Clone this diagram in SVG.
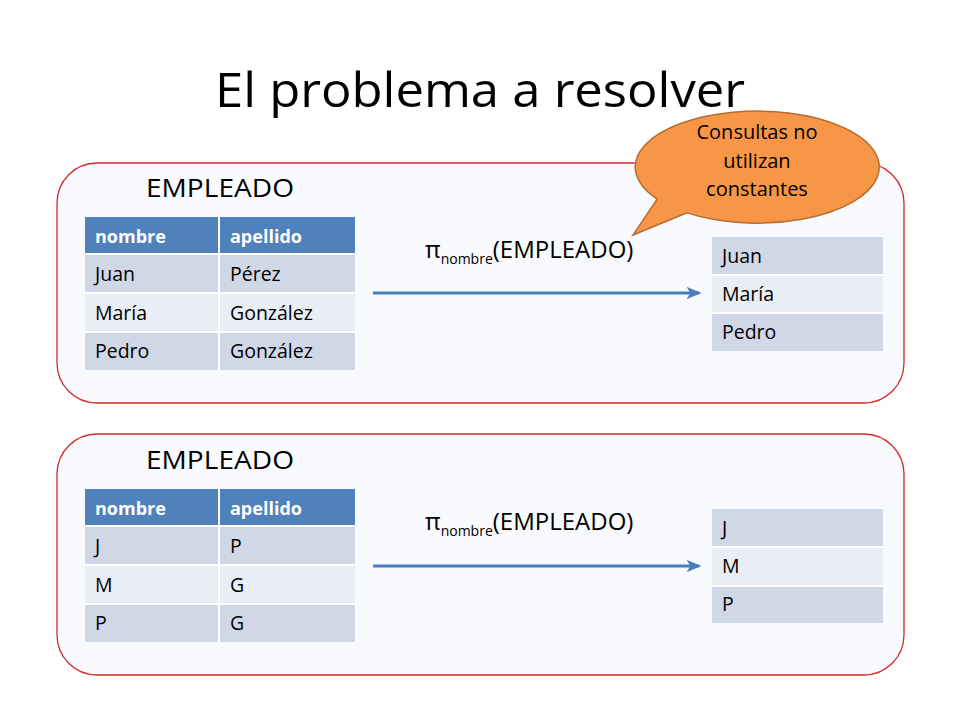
<svg xmlns="http://www.w3.org/2000/svg" width="960" height="720" viewBox="0 0 960 720">
<defs>
<style>
.t{font-family:"Open Sans","Noto Sans","Liberation Sans",sans-serif;fill:#000}
.panel{fill:#f8fafd;stroke:#d42a2a;stroke-width:1.3}
.hd{fill:#4f81bd}
.r1{fill:#d0d8e8}
.r2{fill:#e9edf4}
.sep{stroke:#ffffff;stroke-width:2}
.ht{font-family:"Open Sans","Noto Sans","Liberation Sans",sans-serif;font-weight:bold;font-size:18px;fill:#fff}
.ct{font-family:"Open Sans","Noto Sans","Liberation Sans",sans-serif;font-size:19.5px;fill:#000}
.arrow{stroke:#4a7ebb;stroke-width:3;fill:none}
</style>
<marker id="ah" viewBox="0 0 12 10" refX="10" refY="5" markerWidth="5" markerHeight="4.4" orient="auto" markerUnits="strokeWidth">
<path d="M0,0 L12,5 L0,10 L3,5 Z" fill="#4a7ebb"/>
</marker>
</defs>
<rect width="960" height="720" fill="#ffffff"/>

<g id="title">
<text class="t" x="480" y="107" font-size="48" text-anchor="middle" textLength="530" lengthAdjust="spacingAndGlyphs">El problema a resolver</text>
</g>

<g id="panel-top">
<rect class="panel" x="57" y="163" width="847" height="240" rx="40" ry="40"/>
<text class="t" x="146" y="197" font-size="25" textLength="148" lengthAdjust="spacingAndGlyphs">EMPLEADO</text>
</g>

<g id="table-top">
<rect class="hd" x="85" y="217" width="270" height="37"/>
<rect class="r1" x="85" y="254" width="270" height="39"/>
<rect class="r2" x="85" y="293" width="270" height="39"/>
<rect class="r1" x="85" y="332" width="270" height="38"/>
<line class="sep" x1="85" y1="254" x2="355" y2="254"/>
<line class="sep" x1="85" y1="293" x2="355" y2="293"/>
<line class="sep" x1="85" y1="332" x2="355" y2="332"/>
<line class="sep" x1="219" y1="217" x2="219" y2="370" stroke-width="1.5"/>
<text class="ht" x="95" y="243">nombre</text>
<text class="ht" x="230" y="243">apellido</text>
<text class="ct" x="95" y="281">Juan</text>
<text class="ct" x="230" y="281">Pérez</text>
<text class="ct" x="95" y="320">María</text>
<text class="ct" x="230" y="320">González</text>
<text class="ct" x="95" y="358">Pedro</text>
<text class="ct" x="230" y="358">González</text>
</g>

<g id="result-top">
<rect class="r1" x="712" y="237" width="171" height="38"/>
<rect class="r2" x="712" y="275" width="171" height="38"/>
<rect class="r1" x="712" y="313" width="171" height="38"/>
<line class="sep" x1="712" y1="275" x2="883" y2="275"/>
<line class="sep" x1="712" y1="313" x2="883" y2="313"/>
<text class="ct" x="722" y="263">Juan</text>
<text class="ct" x="722" y="301">María</text>
<text class="ct" x="722" y="339">Pedro</text>
</g>

<g id="panel-bottom">
<rect class="panel" x="57" y="434" width="847" height="241" rx="40" ry="40"/>
<text class="t" x="146" y="469" font-size="25" textLength="148" lengthAdjust="spacingAndGlyphs">EMPLEADO</text>
</g>

<g id="table-bottom">
<rect class="hd" x="85" y="489" width="270" height="37"/>
<rect class="r1" x="85" y="526" width="270" height="39"/>
<rect class="r2" x="85" y="565" width="270" height="39"/>
<rect class="r1" x="85" y="604" width="270" height="38"/>
<line class="sep" x1="85" y1="526" x2="355" y2="526"/>
<line class="sep" x1="85" y1="565" x2="355" y2="565"/>
<line class="sep" x1="85" y1="604" x2="355" y2="604"/>
<line class="sep" x1="219" y1="489" x2="219" y2="642" stroke-width="1.5"/>
<text class="ht" x="95" y="515">nombre</text>
<text class="ht" x="230" y="515">apellido</text>
<text class="ct" x="95" y="553">J</text>
<text class="ct" x="230" y="553">P</text>
<text class="ct" x="95" y="592">M</text>
<text class="ct" x="230" y="592">G</text>
<text class="ct" x="95" y="630">P</text>
<text class="ct" x="230" y="630">G</text>
</g>

<g id="result-bottom">
<rect class="r1" x="712" y="509" width="171" height="38"/>
<rect class="r2" x="712" y="547" width="171" height="39"/>
<rect class="r1" x="712" y="586" width="171" height="37"/>
<line class="sep" x1="712" y1="547" x2="883" y2="547"/>
<line class="sep" x1="712" y1="586" x2="883" y2="586"/>
<text class="ct" x="722" y="535">J</text>
<text class="ct" x="722" y="573">M</text>
<text class="ct" x="722" y="611">P</text>
</g>

<g id="connectors">
<line class="arrow" x1="373" y1="293" x2="699" y2="293" marker-end="url(#ah)"/>
<line class="arrow" x1="373" y1="566" x2="699" y2="566" marker-end="url(#ah)"/>
</g>

<g id="label-top">
<text class="t" x="425" y="258" font-size="24">π<tspan font-size="14" dy="6">nombre</tspan><tspan dy="-6">(EMPLEADO)</tspan></text>
</g>
<g id="label-bottom">
<text class="t" x="425" y="530" font-size="24">π<tspan font-size="14" dy="6">nombre</tspan><tspan dy="-6">(EMPLEADO)</tspan></text>
</g>

<g id="callout">
<path d="M657.1,199.1 A122,56 0 1 1 687,212.9 L633,235 Z" fill="#f79646" stroke="#b66d31" stroke-width="1.5" stroke-linejoin="miter"/>
<text class="t" x="757" y="139" font-size="20" text-anchor="middle">Consultas no</text>
<text class="t" x="757" y="168" font-size="20" text-anchor="middle">utilizan</text>
<text class="t" x="757" y="196" font-size="20" text-anchor="middle">constantes</text>
</g>
</svg>
